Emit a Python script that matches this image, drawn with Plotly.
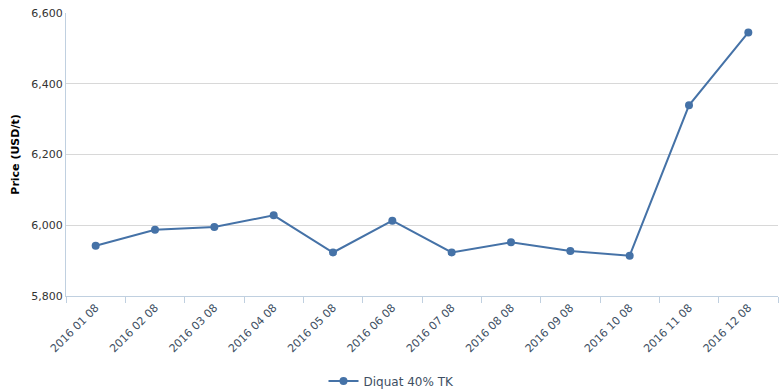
import plotly.graph_objects as go

categories = ["2016 01 08", "2016 02 08", "2016 03 08", "2016 04 08", "2016 05 08", "2016 06 08",
              "2016 07 08", "2016 08 08", "2016 09 08", "2016 10 08", "2016 11 08", "2016 12 08"]
prices = [5942, 5987, 5995, 6028, 5923, 6013, 5923, 5952, 5927, 5914, 6339, 6545]
series_name = "Diquat 40% TK"
y_ticks = [5800, 6000, 6200, 6400, 6600]

FONT = "DejaVu Sans, Verdana, sans-serif"

fig = go.Figure()
fig.add_trace(go.Scatter(
    x=categories, y=prices, name=series_name, mode="lines+markers",
    line=dict(color="#4572A7", width=2),
    marker=dict(color="#4572A7", size=8),
    showlegend=True,
))

fig.update_layout(
    width=783, height=389,
    margin=dict(l=66, r=5, t=13, b=93, autoexpand=False),
    paper_bgcolor="white", plot_bgcolor="white",
    font=dict(family=FONT, size=11, color="#333333"),
    showlegend=True,
    legend=dict(orientation="h", xref="container", x=0.5, xanchor="center",
                yref="paper", y=-0.30, yanchor="middle",
                font=dict(family=FONT, size=12, color="#3E4F63")),
    xaxis=dict(
        type="category", range=[-0.5, 11.5], automargin=False,
        tickson="boundaries", ticks="outside", ticklen=6, tickcolor="#C0D0E0",
        showline=True, linecolor="#C0D0E0", linewidth=1,
        showgrid=False, tickangle=-45,
        tickfont=dict(family=FONT, size=11, color="#3E4F63"),
    ),
    yaxis=dict(
        range=[5800, 6600], tickvals=y_ticks, tickformat=",", automargin=False,
        showgrid=True, gridcolor="#D8D8D8", gridwidth=1,
        showline=True, linecolor="#C0D0E0", zeroline=False,
        ticks="", tickfont=dict(family=FONT, size=11, color="#333333"),
        title=dict(text="<b>Price (USD/t)</b>", font=dict(family=FONT, size=11, color="#000000"),
                   standoff=9),
    ),
)

fig.write_html("out.html", config={"displayModeBar": False},
               post_script="document.body.style.margin='0px';")
